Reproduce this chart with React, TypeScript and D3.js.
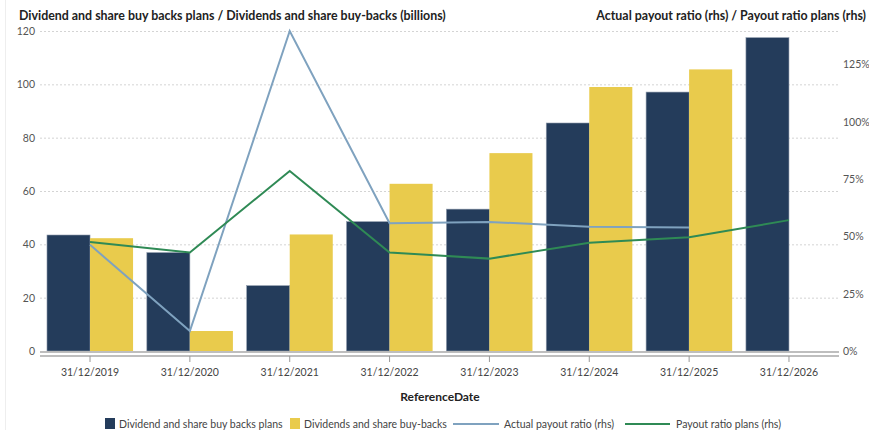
import React from "react";
import * as d3 from "d3";

// Reference dates on the x axis
const categories = [
  "31/12/2019",
  "31/12/2020",
  "31/12/2021",
  "31/12/2022",
  "31/12/2023",
  "31/12/2024",
  "31/12/2025",
  "31/12/2026",
];

// Bars (billions, left axis)
const buybackPlans = [43.5, 36.9, 24.5, 48.5, 53.2, 85.5, 97.1, 117.5];
const buybacksActual: (number | null)[] = [42.3, 7.5, 43.7, 62.7, 74.2, 99.0, 105.6, null];

// Lines (payout ratio, right axis)
const actualPayoutRatio: (number | null)[] = [0.463, 0.087, 1.396, 0.557, 0.563, 0.542, 0.539, null];
const payoutRatioPlans = [0.475, 0.43, 0.785, 0.43, 0.403, 0.472, 0.496, 0.571];

const leftTicks = [0, 20, 40, 60, 80, 100, 120];
const rightTicks = [0, 0.25, 0.5, 0.75, 1, 1.25];

const seriesNames = [
  "Dividend and share buy backs plans",
  "Dividends and share buy-backs",
  "Actual payout ratio (rhs)",
  "Payout ratio plans (rhs)",
];

const COLORS = {
  plans: "#243c5b",
  actual: "#e9cb4c",
  ratioActual: "#7fa2bf",
  ratioPlans: "#2f8a55",
};

const W = 869;
const H = 430;
const FONT = "Lato, 'Open Sans', sans-serif";

export default function App() {
  const left = 40;
  const right = 839;
  const top = 31;
  const bottom = 351;

  const x = d3
    .scaleBand<string>()
    .domain(categories)
    .range([left, right])
    .paddingInner(0.138)
    .paddingOuter(0.07);
  const sub = d3.scaleBand<string>().domain(["plans", "actual"]).range([0, x.bandwidth()]);
  const yL = d3.scaleLinear().domain([0, 120]).range([bottom, top]);
  const yR = d3
    .scaleLinear()
    .domain([0, d3.max(actualPayoutRatio, (d) => d ?? 0) as number])
    .range([bottom, top]);

  const cx = (c: string) => (x(c) as number) + x.bandwidth() / 2;

  const line = d3
    .line<{ c: string; v: number | null }>()
    .defined((d) => d.v != null)
    .x((d) => cx(d.c))
    .y((d) => yR(d.v as number));

  const actualPts = categories.map((c, i) => ({ c, v: actualPayoutRatio[i] }));
  const planPts = categories.map((c, i) => ({ c, v: payoutRatioPlans[i] }));
  const pct = d3.format(".0%");

  return (
    <svg
      width={W}
      height={H}
      style={{ position: "absolute", left: 0, top: 0, display: "block", background: "#fff" }}
      fontFamily={FONT}
    >
      <line x1={5.5} x2={5.5} y1={0} y2={H} stroke="#eeeeee" />

      {/* titles */}
      <text x={19} y={20} fontSize={12.4} fontWeight={700} fill="#222">
        Dividend and share buy backs plans / Dividends and share buy-backs (billions)
      </text>
      <text x={866} y={20} fontSize={12.4} fontWeight={700} fill="#222" textAnchor="end">
        Actual payout ratio (rhs) / Payout ratio plans (rhs)
      </text>

      {/* gridlines */}
      {leftTicks
        .filter((t) => t > 0)
        .map((t) => (
          <line
            key={t}
            x1={left}
            x2={right}
            y1={yL(t) + 0.5}
            y2={yL(t) + 0.5}
            stroke="#d4d4d4"
            strokeDasharray="2,2"
          />
        ))}

      {/* left axis labels */}
      {leftTicks.map((t) => (
        <text key={t} x={35} y={yL(t) + 4} fontSize={10.5} fill="#555" textAnchor="end">
          {t}
        </text>
      ))}

      {/* right axis labels */}
      {rightTicks.map((t) => (
        <text key={t} x={843} y={yR(t) + 4} fontSize={10.5} fill="#555">
          {pct(t)}
        </text>
      ))}

      {/* bars */}
      {categories.map((c, i) => (
        <g key={c} transform={`translate(${x(c)},0)`}>
          <rect
            x={sub("plans")}
            y={yL(buybackPlans[i])}
            width={sub.bandwidth()}
            height={yL(0) - yL(buybackPlans[i])}
            fill={COLORS.plans}
            stroke="#8e9aab"
            strokeWidth={0.6}
          />
          {buybacksActual[i] != null && (
            <rect
              x={sub("actual")}
              y={yL(buybacksActual[i] as number)}
              width={sub.bandwidth()}
              height={yL(0) - yL(buybacksActual[i] as number)}
              fill={COLORS.actual}
            />
          )}
        </g>
      ))}

      {/* lines */}
      <path d={line(actualPts) ?? ""} fill="none" stroke={COLORS.ratioActual} strokeWidth={2} />
      <path d={line(planPts) ?? ""} fill="none" stroke={COLORS.ratioPlans} strokeWidth={2} />

      {/* x axis */}
      <line x1={left} x2={right} y1={352} y2={352} stroke="#a9a9a9" strokeWidth={1.5} />
      <line x1={left} x2={right} y1={356} y2={356} stroke="#a9a9a9" strokeWidth={1.5} />
      {categories.map((c) => (
        <g key={c}>
          <line x1={cx(c)} x2={cx(c)} y1={356} y2={362} stroke="#999" />
          <text x={cx(c)} y={376} fontSize={10.5} fill="#444" textAnchor="middle">
            {c}
          </text>
        </g>
      ))}
      <text x={440} y={401} fontSize={12} fontWeight={700} fill="#222" textAnchor="middle">
        ReferenceDate
      </text>

      {/* legend */}
      <g fontSize={10.5} fill="#444">
        <rect x={105} y={418} width={10} height={11} fill={COLORS.plans} />
        <text x={119} y={428}>{seriesNames[0]}</text>
        <rect x={290} y={418} width={10} height={11} fill={COLORS.actual} />
        <text x={304} y={428}>{seriesNames[1]}</text>
        <line x1={453} x2={499} y1={424} y2={424} stroke={COLORS.ratioActual} strokeWidth={2} />
        <text x={504} y={428}>{seriesNames[2]}</text>
        <line x1={625} x2={670} y1={424} y2={424} stroke={COLORS.ratioPlans} strokeWidth={2} />
        <text x={676} y={428}>{seriesNames[3]}</text>
      </g>
    </svg>
  );
}
